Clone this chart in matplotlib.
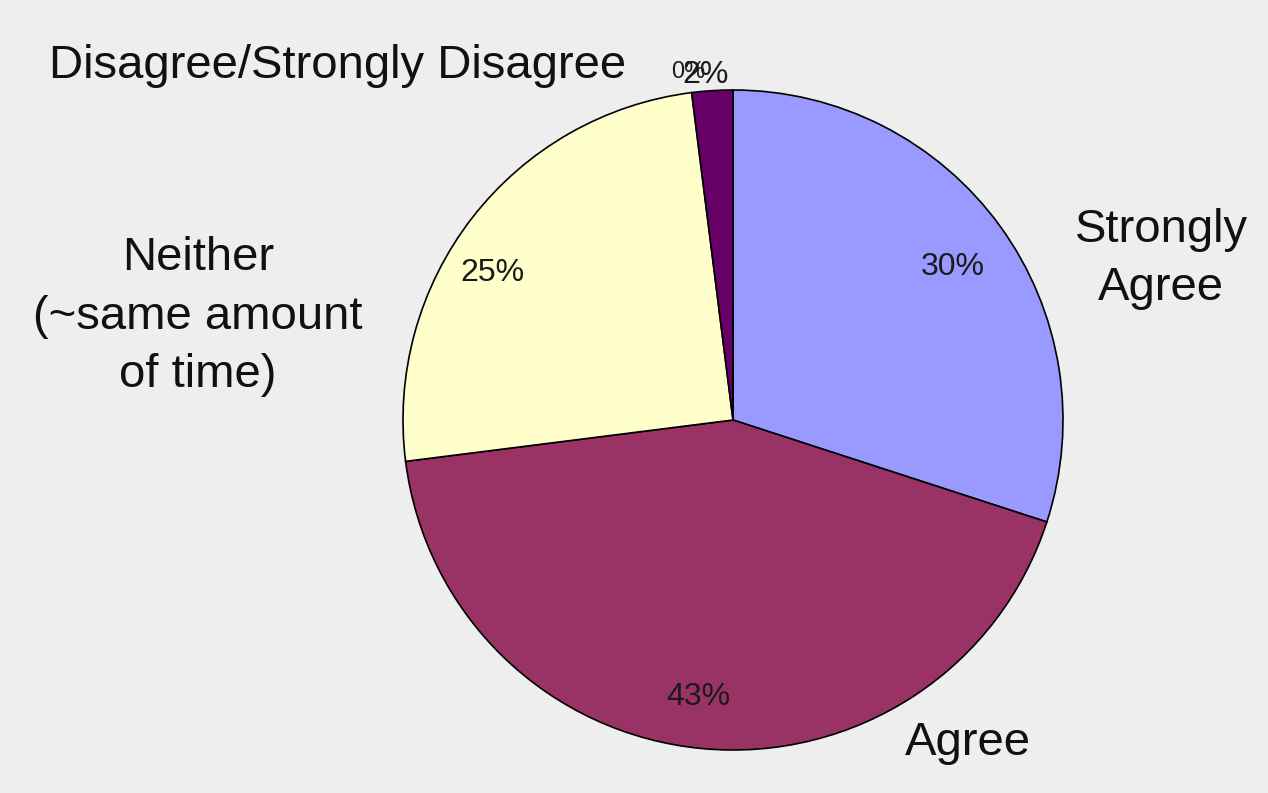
import matplotlib
matplotlib.use("Agg")
import matplotlib.pyplot as plt

# survey answers, clockwise from the top
categories = ["Strongly Agree", "Agree", "Neither", "Disagree", "Strongly Disagree"]
values = [30, 43, 25, 2, 0]
pct_labels = ["30%", "43%", "25%", "2%", "0%"]
cat_labels = ["Strongly\nAgree", "Agree", "Neither\n(~same amount\nof time)",
              "Disagree/Strongly Disagree", ""]
colors = ["#9999FF", "#993366", "#FFFFCC", "#660066", "#CCFFFF"]

W, H = 1268, 793
cx, cy, R = 733, 420, 330

fig = plt.figure(figsize=(W / 100, H / 100), dpi=100)
fig.patch.set_facecolor("#EEEEEE")
ax = fig.add_axes([0, 0, 1, 1])
ax.set_facecolor("#EEEEEE")

ax.pie(values, colors=colors, startangle=90, counterclock=False,
       radius=1.0, wedgeprops=dict(edgecolor="black", linewidth=1.2))

# 1 data unit = pie radius in pixels
ax.set_xlim(-cx / R, (W - cx) / R)
ax.set_ylim(-(H - cy) / R, cy / R)
ax.set_aspect("equal")
ax.axis("off")

font = "Liberation Sans"

# percent labels (anchored at baseline)
pct_pos = [(0.667, 0.439), (-0.106, -0.864), (-0.730, 0.421), (-0.082, 1.021), (-0.136, 1.035)]
pct_size = [23, 23, 23, 23, 17]
for lab, (x, y), s in zip(pct_labels, pct_pos, pct_size):
    ax.text(x, y, lab, ha="center", va="baseline", fontsize=s, family=font, color="#1a1a1a")

# category labels (baseline of the last line)
cat_pos = [(1.297, 0.364), (0.712, -1.015), (-1.621, 0.100), (-1.197, 1.036), (0, 0)]
for lab, (x, y) in zip(cat_labels, cat_pos):
    if lab:
        ax.text(x, y, lab, ha="center", va="baseline", fontsize=34, family=font,
                color="#111111", linespacing=1.42)

fig.savefig("out.png", dpi=100, facecolor=fig.get_facecolor())
